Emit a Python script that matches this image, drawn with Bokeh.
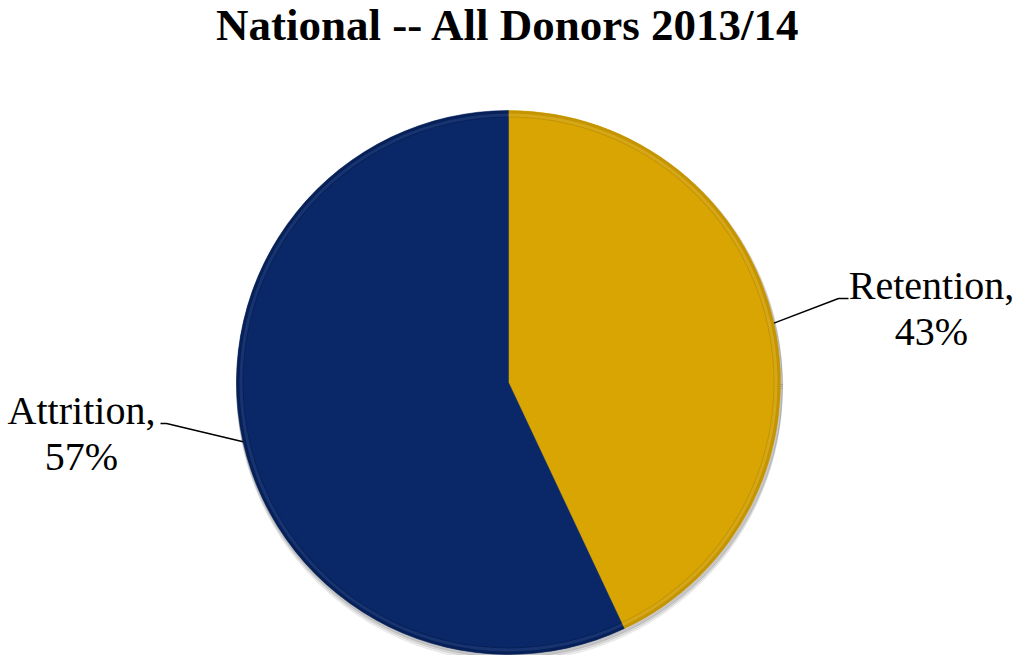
"""
Camembert retention / attrition des donneurs (national 2013/14) avec Bokeh.
"""

import math

from bokeh.core.properties import value
from bokeh.embed import file_html
from bokeh.models import ColumnDataSource, Range1d
from bokeh.plotting import figure
from bokeh.resources import INLINE


TITLE = "National -- All Donors 2013/14"
CATEGORIES = ["Retention", "Attrition"]
PERCENTS = [43, 57]
COLORS = ["#D9A503", "#0A2867"]
RIM_COLORS = ["#B38600", "#061C4C"]
HIGHLIGHT_COLORS = ["#F5CC45", "#3A5A9E"]

# geometrie (coordonnees = pixels de l'image, y vers le bas pris en negatif)
WIDTH = 1013
HEIGHT = 655
CENTER_X = 508
CENTER_Y = -382
RADIUS = 272
FONT = "Liberation Serif"
LABEL_SIZE = 40
TITLE_SIZE = 45


def build_pie() -> figure:
    total = sum(PERCENTS)
    starts, ends, mids = [], [], []
    angle = math.pi / 2
    for pct in PERCENTS:
        sweep = 2 * math.pi * pct / total
        starts.append(angle - sweep)
        ends.append(angle)
        mids.append(angle - sweep / 2)
        angle -= sweep

    source = ColumnDataSource(
        dict(
            start=starts,
            end=ends,
            color=COLORS,
            rim=RIM_COLORS,
            light=HIGHLIGHT_COLORS,
        )
    )

    p = figure(
        width=WIDTH,
        height=HEIGHT,
        x_range=Range1d(0, WIDTH),
        y_range=Range1d(-HEIGHT, 0),
        output_backend="svg",
        toolbar_location=None,
        min_border=0,
    )
    p.axis.visible = False
    p.grid.visible = False
    p.outline_line_color = None
    p.background_fill_color = "white"

    # ombre portee legere
    for off, alpha in [(6, 0.06), (4, 0.08), (2, 0.1)]:
        p.wedge(
            x=CENTER_X + 1,
            y=CENTER_Y - off,
            radius=RADIUS + 1,
            start_angle=0,
            end_angle=2 * math.pi,
            color="#000000",
            alpha=alpha,
        )

    p.wedge(
        x=CENTER_X,
        y=CENTER_Y,
        radius=RADIUS,
        start_angle="start",
        end_angle="end",
        fill_color="color",
        line_color="color",
        line_width=0.5,
        source=source,
    )
    # effet de biseau sur le bord
    p.annular_wedge(
        x=CENTER_X,
        y=CENTER_Y,
        inner_radius=RADIUS - 7,
        outer_radius=RADIUS,
        start_angle="start",
        end_angle="end",
        fill_color="rim",
        fill_alpha=0.55,
        line_color=None,
        source=source,
    )
    p.annular_wedge(
        x=CENTER_X,
        y=CENTER_Y,
        inner_radius=RADIUS - 6,
        outer_radius=RADIUS - 3,
        start_angle="start",
        end_angle="end",
        fill_color="light",
        fill_alpha=0.35,
        line_color=None,
        source=source,
    )

    # etiquettes avec lignes de rappel (x texte, ligne de base, coude)
    label_pos = [(931, -298, 838), (81, -423, 166)]
    # decalage ligne de base -> milieu de la boite du texte
    mid_off = 0.3375 * LABEL_SIZE
    names, pcts, name_x, name_y, pct_y = [], [], [], [], []
    line_xs, line_ys = [], []
    for cat, pct, mid, (lx, ly, elbow_x) in zip(CATEGORIES, PERCENTS, mids, label_pos):
        px = CENTER_X + RADIUS * math.cos(mid)
        py = CENTER_Y + RADIUS * math.sin(mid)
        end_x = elbow_x + (10 if px < elbow_x else -6)
        line_xs.append([px, elbow_x, end_x])
        line_ys.append([py, ly, ly])
        names.append(f"{cat},")
        pcts.append(f"{pct}%")
        name_x.append(lx)
        name_y.append(ly + mid_off)
        pct_y.append(ly - 46 + mid_off)

    p.multi_line(line_xs, line_ys, line_color="black", line_width=1.5)
    for labels, ys in ((names, name_y), (pcts, pct_y)):
        p.text(
            x=name_x,
            y=ys,
            text=labels,
            text_font=value(FONT),
            text_font_size=f"{LABEL_SIZE}px",
            text_align="center",
            text_baseline="middle",
            text_color="black",
        )

    # titre legerement abaisse pour que sa boite reste dans le cadre
    p.text(
        x=[CENTER_X],
        y=[-40 + 0.3375 * TITLE_SIZE],
        text=[TITLE],
        text_font=value(FONT),
        text_font_size=f"{TITLE_SIZE}px",
        text_font_style="bold",
        text_align="center",
        text_baseline="middle",
        text_color="black",
    )
    return p


def main() -> None:
    p = build_pie()
    open("out.html", "w").write(file_html(p, INLINE))


if __name__ == "__main__":
    main()
